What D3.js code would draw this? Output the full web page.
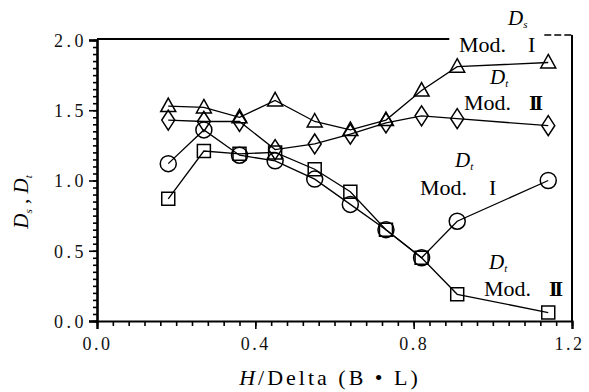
<!DOCTYPE html>
<html>
<head>
<meta charset="utf-8">
<script src="https://cdn.jsdelivr.net/npm/d3@7/dist/d3.min.js"></script>
<style>
  body { margin: 0; background: #fff; }
  svg { display: block; }
  svg text { font-family: "Liberation Serif", "Tinos", "Times New Roman", "DejaVu Serif", "Noto Serif", "Noto Serif CJK SC", serif; }
</style>
</head>
<body>
<svg id="chart" width="589" height="392"></svg>
<script>
// H/Delta values (x) shared by all four series
const xVals = [0.18, 0.27, 0.36, 0.45, 0.55, 0.64, 0.73, 0.82, 0.91, 1.14];

// series
const dsMod1 = [1.53, 1.52, 1.45, 1.57, 1.42, 1.36, 1.43, 1.64, 1.81, 1.84]; // triangles
const dtMod2 = [1.43, 1.42, 1.42, 1.22, 1.26, 1.33, 1.41, 1.46, 1.44, 1.39]; // diamonds
const dtMod1 = [1.12, 1.36, 1.18, 1.14, 1.01, 0.83, 0.65, 0.45, 0.71, 1.00]; // circles
const dsMod2 = [0.87, 1.21, 1.19, 1.20, 1.08, 0.92, 0.65, 0.45, 0.19, 0.06]; // squares

const xTicks = [0.0, 0.4, 0.8, 1.2];
const yTicks = [0.0, 0.5, 1.0, 1.5, 2.0];

const w = 589;
const h = 392;
const plot = {left: 97, right: 572, top: 40, bottom: 321};

const svg = d3.select("#chart");

// SCALES
const xScale = d3.scaleLinear().domain([0, 1.2]).range([plot.left, plot.right]);
const yScale = d3.scaleLinear().domain([0, 2]).range([plot.bottom, plot.top]);

// AXES
const xAxis = d3.axisBottom(xScale)
    .tickValues(xTicks)
    .tickSize(8)
    .tickFormat(d3.format(".1f"));

const yAxis = d3.axisLeft(yScale)
    .tickValues(yTicks)
    .tickSize(8)
    .tickFormat(d3.format(".1f"));

// minor ticks
const xMinor = d3.range(0, 1.2001, 0.04).map(d => +d.toFixed(2));
const yMinor = d3.range(0, 2.0001, 0.05).map(d => +d.toFixed(2));

svg.append("g")
    .attr("class", "x minor")
    .attr("transform", `translate(0,${plot.bottom})`)
    .call(d3.axisBottom(xScale).tickValues(xMinor).tickSize(5).tickFormat(""))
    .select(".domain").remove();

svg.append("g")
    .attr("class", "y minor")
    .attr("transform", `translate(${plot.left},0)`)
    .call(d3.axisLeft(yScale).tickValues(yMinor).tickSize(4).tickFormat(""))
    .select(".domain").remove();

const gx = svg.append("g")
    .attr("class", "x axis")
    .attr("transform", `translate(0,${plot.bottom})`)
    .call(xAxis);

const gy = svg.append("g")
    .attr("class", "y axis")
    .attr("transform", `translate(${plot.left},0)`)
    .call(yAxis);

gx.select(".domain").attr("stroke-width", 2.2);
gy.select(".domain").attr("stroke-width", 2.6);

svg.selectAll(".axis .tick line, .minor .tick line")
    .attr("stroke", "#000")
    .attr("stroke-width", 1.6);

gx.selectAll(".tick text")
    .attr("y", 16)
    .style("font-size", "18px")
    .style("letter-spacing", "2.5px")
    .attr("fill", "#111");

// last label sits close to the edge, nudge it in a bit
gx.selectAll(".tick text").filter(d => d === 1.2).attr("dx", -3);

gy.selectAll(".tick text")
    .attr("x", -10)
    .attr("dy", "0.36em")
    .style("font-size", "18px")
    .style("letter-spacing", "3.5px")
    .attr("fill", "#111");

// frame: top line stops before the top label, right side with small hook
svg.append("line")
    .attr("x1", plot.left).attr("x2", xScale(0.89))
    .attr("y1", plot.top - 1).attr("y2", plot.top - 1)
    .attr("stroke", "#000").attr("stroke-width", 2);

svg.append("line")
    .attr("x1", plot.right).attr("x2", plot.right)
    .attr("y1", plot.top - 5).attr("y2", plot.bottom)
    .attr("stroke", "#000").attr("stroke-width", 2);

svg.append("line")
    .attr("x1", xScale(1.13)).attr("x2", plot.right)
    .attr("y1", plot.top - 5).attr("y2", plot.top - 5)
    .attr("stroke", "#000").attr("stroke-width", 1.5)
    .attr("stroke-dasharray", "7,3");

// SERIES
const shapes = {
    triangle: "M0,-8L7.5,5.5L-7.5,5.5Z",
    diamond: "M0,-10L6.5,0L0,10L-6.5,0Z",
    square: "M-6.5,-6.5H6.5V6.5H-6.5Z",
    circle: d3.arc()({innerRadius: 0, outerRadius: 8, startAngle: 0, endAngle: 2 * Math.PI})
};

const series = [
    {name: "dsMod1", values: dsMod1, shape: "triangle"},
    {name: "dtMod2", values: dtMod2, shape: "diamond"},
    {name: "dtMod1", values: dtMod1, shape: "circle"},
    {name: "dsMod2", values: dsMod2, shape: "square"}
];

const line = d3.line()
    .x((d, i) => xScale(xVals[i]))
    .y(d => yScale(d));

series.forEach(s => {
    svg.append("path")
        .attr("class", `line-${s.name}`)
        .attr("d", line(s.values))
        .attr("fill", "none")
        .attr("stroke", "#000")
        .attr("stroke-width", 1.3);
});

series.forEach(s => {
    svg.selectAll(`.pt-${s.name}`)
        .data(s.values)
        .join("path")
        .attr("class", `pt-${s.name}`)
        .attr("d", shapes[s.shape])
        .attr("transform", (d, i) => `translate(${xScale(xVals[i])},${yScale(d)})`)
        .attr("fill", "none")
        .attr("stroke", "#000")
        .attr("stroke-width", 1.5);
});

// LABELS
const labels = [
    {sub: "s", mod: "I", dx: 508, dy: 25, mx: 459, my: 52},
    {sub: "t", mod: "II", dx: 490, dy: 84, mx: 464, my: 110},
    {sub: "t", mod: "I", dx: 455, dy: 167, mx: 420, my: 195},
    {sub: "t", mod: "II", dx: 489, dy: 269, mx: 484, my: 296}
];

labels.forEach(l => {
    const t = svg.append("text")
        .attr("x", l.dx).attr("y", l.dy)
        .style("font-size", "21px")
        .style("font-style", "italic");
    t.append("tspan").text("D");
    t.append("tspan").text(l.sub)
        .attr("dy", 3)
        .style("font-size", "11px");

    const m = svg.append("text")
        .attr("x", l.mx).attr("y", l.my)
        .style("font-size", "22px");
    m.append("tspan").text("Mod.");
    m.append("tspan").text(l.mod)
        .attr("dx", l.mod === "I" ? 22 : 18)
        .style("font-weight", l.mod === "II" ? "bold" : "normal")
        .style("letter-spacing", l.mod === "II" ? "-3px" : "0px");
});

// AXIS TITLES
const xTitle = svg.append("text")
    .attr("x", 330).attr("y", 385)
    .attr("text-anchor", "middle")
    .style("font-size", "22px")
    .style("letter-spacing", "3px");
xTitle.append("tspan").text("H").style("font-style", "italic");
xTitle.append("tspan").text("/Delta (B \u2022 L)");

const yTitle = svg.append("text")
    .attr("transform", "translate(28,202) rotate(-90)")
    .attr("text-anchor", "middle")
    .style("font-size", "21px");
yTitle.append("tspan").text("D").style("font-style", "italic");
yTitle.append("tspan").text("s").attr("dy", 4).style("font-size", "11px").style("font-style", "italic");
yTitle.append("tspan").text(" , ").attr("dy", -4);
yTitle.append("tspan").text("D").style("font-style", "italic");
yTitle.append("tspan").text("t").attr("dy", 4).style("font-size", "11px").style("font-style", "italic");
</script>
</body>
</html>
